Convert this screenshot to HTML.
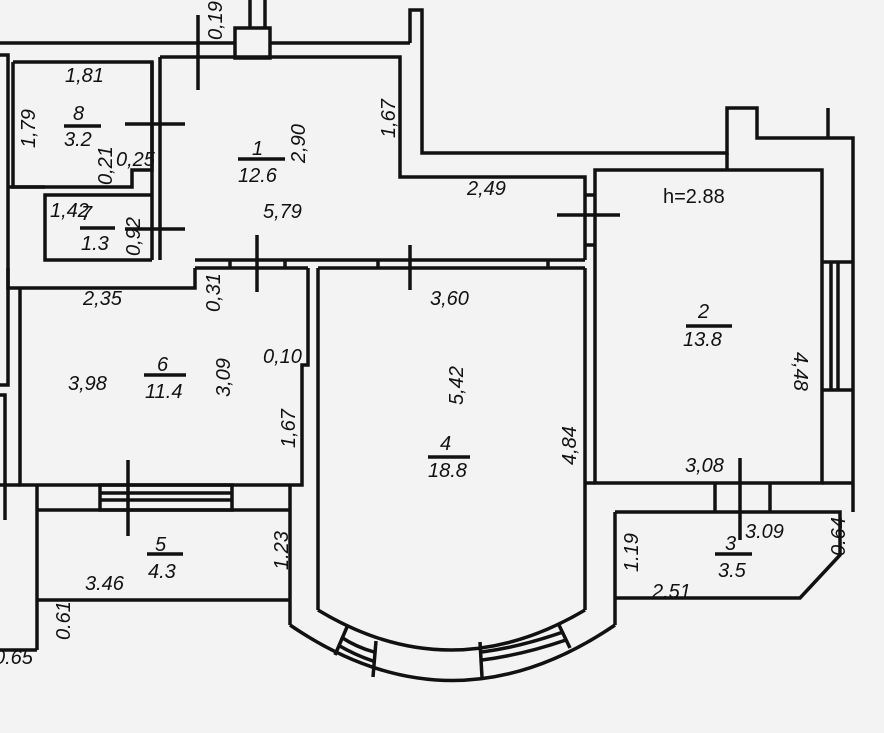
<!DOCTYPE html>
<html><head><meta charset="utf-8"><style>
html,body{margin:0;padding:0;background:#f3f3f3;}
svg{display:block;}
text{font-family:"Liberation Sans",sans-serif;font-style:italic;font-size:20px;fill:#111;}
</style></head><body>
<svg width="884" height="733" viewBox="0 0 884 733" xmlns="http://www.w3.org/2000/svg">
<rect width="884" height="733" fill="#f3f3f3"/>
<g fill="none" stroke="#111" stroke-width="3.5" stroke-linejoin="miter">
<polyline points="0,43 235,43"/>
<polyline points="270,43 410,43"/>
<rect x="235" y="28" width="35" height="30"/>
<line x1="250" y1="0" x2="250" y2="28"/><line x1="265" y1="0" x2="265" y2="28"/>
<polyline points="410,43 410,10 422,10 422,153 727,153 727,108 757,108 757,138 853,138 853,512"/>
<line x1="828" y1="108" x2="828" y2="138"/>
<polyline points="160,57 400,57 400,177 585,177 585,260"/>
<line x1="727" y1="153" x2="727" y2="170"/>
<rect x="595" y="170" width="227" height="313"/>
<line x1="822" y1="262" x2="853" y2="262"/><line x1="822" y1="390" x2="853" y2="390"/>
<line x1="831" y1="262" x2="831" y2="390"/><line x1="838" y1="262" x2="838" y2="390"/>
<line x1="585" y1="195" x2="595" y2="195"/><line x1="585" y1="245" x2="595" y2="245"/>
<polyline points="13,62 152,62 152,170 132,170 132,187 13,187 13,62"/>
<line x1="160" y1="57" x2="160" y2="260"/>
<line x1="152" y1="62" x2="152" y2="260"/>
<polyline points="152,195 45,195 45,260 152,260"/>
<line x1="8" y1="187" x2="45" y2="187"/>
<polyline points="0,55 8,55 8,385 0,385"/>
<polyline points="0,395 5,395 5,520"/>
<polyline points="8,268 8,288 195,288 195,268"/>
<line x1="195" y1="260" x2="585" y2="260"/>
<line x1="195" y1="268" x2="308" y2="268"/>
<line x1="318" y1="268" x2="585" y2="268"/>
<line x1="230" y1="260" x2="230" y2="268"/><line x1="285" y1="260" x2="285" y2="268"/>
<line x1="378" y1="260" x2="378" y2="268"/><line x1="548" y1="260" x2="548" y2="268"/>
<polyline points="20,288 20,485 302,485 302,365 308,365 308,268"/>
<line x1="318" y1="268" x2="318" y2="610"/>
<line x1="585" y1="268" x2="585" y2="610"/>
<path d="M318,610 Q450,690 585,610"/>
<path d="M290,625 Q452,736 615,625"/>
<line x1="290" y1="485" x2="290" y2="625"/>
<line x1="615" y1="512" x2="615" y2="625"/>
<line x1="347" y1="627" x2="335" y2="655"/>
<line x1="376" y1="641" x2="373" y2="677"/>
<line x1="480" y1="642" x2="482" y2="677"/>
<line x1="558" y1="623" x2="570" y2="648"/>
<path d="M341,637 Q356,647 374,652"/>
<path d="M338,645 Q355,655 373,661"/>
<path d="M482,652 Q520,647 563,632"/>
<path d="M482,660 Q522,655 566,640"/>
<line x1="715" y1="483" x2="715" y2="512"/><line x1="770" y1="483" x2="770" y2="512"/>
<line x1="822" y1="483" x2="853" y2="483"/>
<line x1="585" y1="483" x2="595" y2="483"/>
<polyline points="615,512 840,512 840,555 800,598 615,598"/>
<line x1="0" y1="485" x2="20" y2="485"/>
<line x1="37" y1="510" x2="290" y2="510"/>
<line x1="37" y1="485" x2="37" y2="650"/>
<rect x="100" y="485" width="132" height="25"/>
<line x1="100" y1="493" x2="232" y2="493"/><line x1="100" y1="500" x2="232" y2="500"/>
<line x1="37" y1="600" x2="290" y2="600"/>
<line x1="0" y1="650" x2="37" y2="650"/>
<line x1="198" y1="15" x2="198" y2="90"/>
<line x1="125" y1="124" x2="185" y2="124"/>
<line x1="125" y1="229" x2="185" y2="229"/>
<line x1="257" y1="235" x2="257" y2="292"/>
<line x1="410" y1="245" x2="410" y2="290"/>
<line x1="557" y1="215" x2="620" y2="215"/>
<line x1="128" y1="460" x2="128" y2="536"/>
<line x1="740" y1="458" x2="740" y2="540"/>
<line x1="238" y1="159" x2="285" y2="159"/>
<line x1="64" y1="126" x2="101" y2="126"/>
<line x1="80" y1="228" x2="115" y2="228"/>
<line x1="144" y1="375" x2="186" y2="375"/>
<line x1="428" y1="457" x2="470" y2="457"/>
<line x1="686" y1="326" x2="732" y2="326"/>
<line x1="147" y1="554" x2="183" y2="554"/>
<line x1="715" y1="554" x2="752" y2="554"/>
</g>
<g>
<text x="65" y="82">1,81</text>
<text x="73" y="120">8</text><text x="64" y="146">3.2</text>
<text x="81" y="220">7</text><text x="81" y="250">1.3</text>
<text x="50" y="217">1,42</text>
<text x="116" y="166">0,25</text>
<text x="252" y="155">1</text><text x="238" y="182">12.6</text>
<text x="263" y="218">5,79</text>
<text x="467" y="195">2,49</text>
<text x="663" y="203" style="font-style:normal">h=2.88</text>
<text x="698" y="318">2</text><text x="683" y="346">13.8</text>
<text x="83" y="305">2,35</text>
<text x="430" y="305">3,60</text>
<text x="68" y="390">3,98</text>
<text x="157" y="371">6</text><text x="145" y="398">11.4</text>
<text x="263" y="363">0,10</text>
<text x="440" y="450">4</text><text x="428" y="477">18.8</text>
<text x="685" y="472">3,08</text>
<text x="745" y="538">3.09</text>
<text x="155" y="551">5</text><text x="148" y="578">4.3</text>
<text x="85" y="590">3.46</text>
<text x="725" y="550">3</text><text x="718" y="577">3.5</text>
<text x="652" y="598">2.51</text>
<text x="-6" y="664">0.65</text>
<text transform="translate(222,40) rotate(-90)">0,19</text>
<text transform="translate(35,148) rotate(-90)">1,79</text>
<text transform="translate(112,185) rotate(-90)">0,21</text>
<text transform="translate(140,256) rotate(-90)">0,92</text>
<text transform="translate(305,163) rotate(-90)">2,90</text>
<text transform="translate(395,138) rotate(-90)">1,67</text>
<text transform="translate(220,312) rotate(-90)">0,31</text>
<text transform="translate(230,397) rotate(-90)">3,09</text>
<text transform="translate(295,448) rotate(-90)">1,67</text>
<text transform="translate(463,405) rotate(-90)">5,42</text>
<text transform="translate(576,465) rotate(-90)">4,84</text>
<text transform="translate(794,352) rotate(90)">4,48</text>
<text transform="translate(288,570) rotate(-90)">1.23</text>
<text transform="translate(70,640) rotate(-90)">0.61</text>
<text transform="translate(638,572) rotate(-90)">1.19</text>
<text transform="translate(845,556) rotate(-90)">0.64</text>
</g>
</svg>
</body></html>
